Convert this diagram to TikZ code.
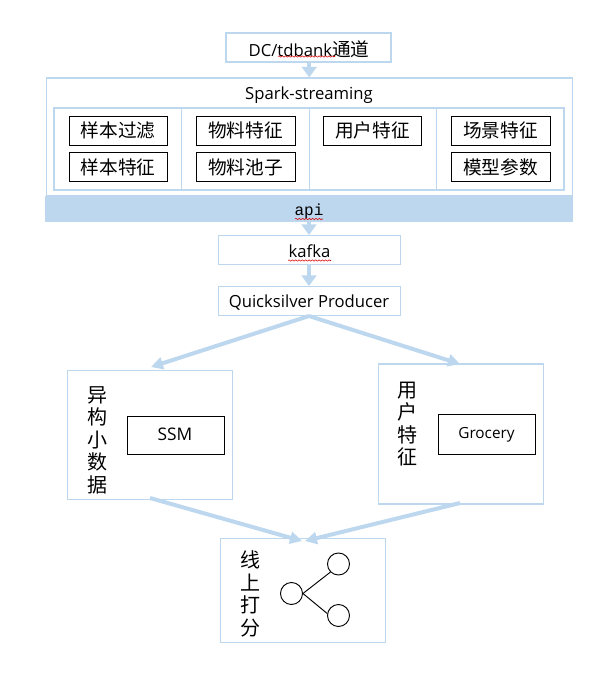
\documentclass[tikz,border=0pt]{standalone}
\usepackage{fontspec}
\setmainfont{Open Sans}
\newfontfamily\cjk{Noto Sans CJK SC}
\newfontfamily\mono{Liberation Mono}
\usetikzlibrary{arrows.meta,decorations.pathmorphing}
\definecolor{lb}{HTML}{BDD7EE}
\tikzset{
  pane/.style={draw=lb,line width=0.8pt,fill=white,inner sep=0pt},
  blk/.style={draw=black,line width=0.7pt,fill=white,inner sep=0pt,font=\cjk\fontsize{14}{16}\selectfont},
  flow/.style={draw=lb,line width=3pt,-{Triangle[length=9pt,width=9pt]}},
  shortflow/.style={draw=lb,line width=3pt,-{Triangle[length=8pt,width=11pt]}},
  lbl/.style={font=\fontsize{12.5}{15}\selectfont,inner sep=0pt},
  vtxt/.style={font=\cjk\fontsize{15}{16.9}\selectfont,align=center,inner sep=0pt},
  circ/.style={draw=black,line width=0.7pt,circle,minimum size=16.5pt,inner sep=0pt,fill=white},
  wavy/.style={draw=red!85!black,line width=0.4pt,decorate,decoration={snake,amplitude=0.5pt,segment length=2.5pt}}
}
\begin{document}
\begin{tikzpicture}[x=0.75pt,y=-0.75pt]
\useasboundingbox (0,0) rectangle (598,675);
% outer panes
\node[pane,minimum width=123.75pt,minimum height=21.75pt] (dc) at (308.5,47.5) {};
\node[lbl] at (309,49) {DC/tdbank{\cjk\fontsize{14}{15}\selectfont 通道}};
\node[pane,minimum width=394.5pt,minimum height=88.5pt] (spark) at (309.25,137) {};
\node[lbl] (sparkt) at (309,95.5) {Spark-streaming};
\node[pane,minimum width=382.5pt,minimum height=61.5pt] (inner) at (309,149) {};
\coordinate (d1t) at (181.5,108); \coordinate (d1b) at (181.5,190);
\coordinate (d2t) at (309.5,108); \coordinate (d2b) at (309.5,190);
\coordinate (d3t) at (436.5,108); \coordinate (d3b) at (436.5,190);
\draw[draw=lb,line width=0.8pt] (d1t)--(d1b) (d2t)--(d2b) (d3t)--(d3b);
% feature boxes
\node[blk,minimum width=73.5pt,minimum height=21.75pt] (a1) at (118,130.5) {样本过滤};
\node[blk,minimum width=73.5pt,minimum height=21.75pt] (a2) at (118,167) {样本特征};
\node[blk,minimum width=74.25pt,minimum height=21.75pt] (b1) at (245.5,130.5) {物料特征};
\node[blk,minimum width=74.25pt,minimum height=21.75pt] (b2) at (245.5,167) {物料池子};
\node[blk,minimum width=73.5pt,minimum height=21.75pt] (c1) at (372.5,130.5) {用户特征};
\node[blk,minimum width=74.25pt,minimum height=21.75pt] (d1) at (500.5,130.5) {场景特征};
\node[blk,minimum width=74.25pt,minimum height=21.75pt] (d2) at (500.5,167) {模型参数};
% api bar
\node[draw=none,fill=lb,inner sep=0pt,minimum width=396pt,minimum height=19.5pt] (api) at (309,209) {};
\node[font=\mono\fontsize{12}{14}\selectfont,inner sep=0pt] at (309,211.5) {api};
% kafka / producer
\node[pane,minimum width=136.5pt,minimum height=22pt] (kafka) at (309.5,250.25) {};
\node[lbl] at (309.5,251.5) {kafka};
\node[pane,minimum width=136.5pt,minimum height=22pt] (qs) at (309.5,301.25) {};
\node[lbl] at (309,303) {Quicksilver Producer};
% left / right
\node[pane,minimum width=123.75pt,minimum height=96.5pt] (left) at (150,434.75) {};
\node[vtxt] at (97,440) {异\\构\\小\\数\\据};
\node[blk,minimum width=72.75pt,minimum height=28.5pt] (ssm) at (175.5,435) {};
\node[font=\fontsize{13}{15}\selectfont,inner sep=0pt] at (175,434.5) {SSM};
\node[pane,minimum width=123.75pt,minimum height=105pt] (right) at (461,434) {};
\node[vtxt] at (407,424) {用\\户\\特\\征};
\node[blk,minimum width=72.75pt,minimum height=30pt] (groc) at (486.5,434) {};
\node[font=\fontsize{11.5}{14}\selectfont,inner sep=0pt] at (486.5,434.5) {Grocery};
% bottom
\node[pane,minimum width=123.75pt,minimum height=78pt] (bot) at (303,590.75) {};
\node[vtxt] at (250.5,594) {线\\上\\打\\分};
\node[circ] (n0) at (291.5,593.5) {};
\node[circ] (n1) at (338.5,564) {};
\node[circ] (n2) at (338.5,615.5) {};
\draw[black,line width=0.7pt] (n0.east)--(n1.south west);
\draw[black,line width=0.7pt] (n0.east)--(n2.170);
% wavy underlines
\coordinate (w1a) at (278,56.5); \coordinate (w1b) at (335,56.5);
\coordinate (w2a) at (295,219); \coordinate (w2b) at (323,219);
\coordinate (w3a) at (288,260.5); \coordinate (w3b) at (331,260.5);
\draw[wavy] (w1a)--(w1b); \draw[wavy] (w2a)--(w2b); \draw[wavy] (w3a)--(w3b);
% connectors
\draw[shortflow] (dc.south -| spark.north) -- (spark.north);
\draw[shortflow] (api.south) -- (kafka.north -| api.south);
\draw[shortflow] (kafka.south -| api.south) -- (qs.north -| api.south);
\coordinate (tl) at (151,367); \coordinate (tr) at (460,364);
\coordinate (ql) at (309,316); \coordinate (sl) at (150,498); \coordinate (sr) at (460,503);
\coordinate (bl) at (302,541); \coordinate (br) at (305,541);
\draw[flow] (ql) -- (tl);
\draw[flow] (ql) -- (tr);
\draw[flow] (sl) -- (bl);
\draw[flow] (sr) -- (br);
\end{tikzpicture}
\end{document}
